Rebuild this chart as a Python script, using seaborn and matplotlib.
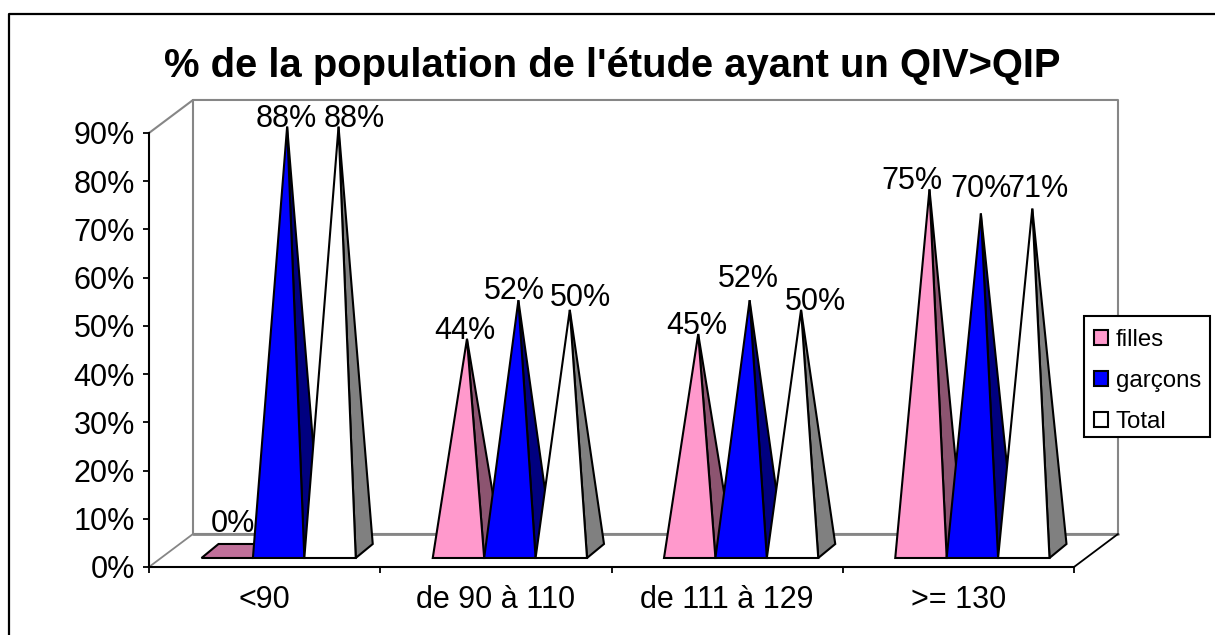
import matplotlib
matplotlib.use('Agg')
import matplotlib.pyplot as plt
import pandas as pd
import seaborn as sns
from matplotlib.lines import Line2D
from matplotlib.patches import Patch, Polygon, Rectangle

# data
groupes = ['<90', 'de 90 à 110', 'de 111 à 129', '>= 130']
filles = [0, 44, 45, 75]
garcons = [88, 52, 52, 70]
total = [88, 50, 50, 71]
series = ['filles', 'garçons', 'Total']

df = pd.DataFrame({
    'groupe': groupes * 3,
    'serie': ['filles'] * 4 + ['garçons'] * 4 + ['Total'] * 4,
    'pct': filles + garcons + total,
})

colors = {'filles': '#FF99CC', 'garçons': '#0000FF', 'Total': '#FFFFFF'}
side_colors = {'filles': '#8C5470', 'garçons': '#000080', 'Total': '#808080'}
floor_color = '#C0709A'

W, H = 1215, 635
px_x = 1 / 231.25   # one pixel in category units
px_y = 1 / 4.82     # one pixel in percent units

sns.set_theme(style='white')
plt.rcParams['font.family'] = ['Liberation Sans', 'DejaVu Sans']

fig = plt.figure(figsize=(W / 100, H / 100), dpi=100)
ax = fig.add_axes([149 / W, (H - 567) / H, 925 / W, 434 / H])

# seaborn works out the bar slots, the pyramids are drawn on top of them
sns.barplot(data=df, x='groupe', y='pct', hue='serie', hue_order=series,
            palette=colors, width=0.667, gap=0, legend=False, ax=ax)
ax.set_xlim(-0.5, 3.5)
ax.set_ylim(0, 90)
ax.set_xlabel('')
ax.set_ylabel('')

# back wall and floor of the 3d box
wx, wy = 44 * px_x, 33 * px_y
gray = '#868686'
ax.plot([-0.5, -0.5 + wx, 3.5 + wx, 3.5 + wx, -0.5 + wx, -0.5 + wx],
        [90, 90 + wy, 90 + wy, wy, wy, 90 + wy], color=gray, lw=1.5,
        clip_on=False, zorder=1)
ax.plot([-0.5, -0.5 + wx], [0, wy], color=gray, lw=1.3, clip_on=False, zorder=1)
ax.plot([-0.5 + wx, 3.5 + wx], [wy, wy], color=gray, lw=2, clip_on=False, zorder=1)
ax.plot([3.5, 3.5 + wx], [0, wy], color='black', lw=1.3, clip_on=False, zorder=1)

# label nudges in pixels (dx, dy above the apex)
nudges = [(-3, 19), (-1, 0), (16, 0),
          (-2.5, 0), (-4.5, 1), (10.5, 4),
          (-1.5, 0), (-1, 13), (14.5, 0),
          (-17.5, 0), (0, 16), (5.5, 12)]

shift = 14 * px_x
base = 9 * px_y
dx, dy = 17 * px_x, 14 * px_y
bars = list(ax.patches)
z = 3
for i in range(4):
    for j, s in enumerate(series):
        bar = bars[j * 4 + i]
        x0 = bar.get_x() + shift
        x1 = x0 + bar.get_width()
        v = bar.get_height()
        bar.set_visible(False)
        apex = ((x0 + x1) / 2 + dx / 2, base + dy / 2 + v)
        if v == 0:
            ax.add_patch(Polygon([(x0, base), (x1, base), (x1 + dx, base + dy), (x0 + dx, base + dy)],
                                 fc=floor_color, ec='black', lw=1.5, clip_on=False, zorder=z))
        else:
            ax.add_patch(Polygon([(x1, base), (x1 + dx, base + dy), apex],
                                 fc=side_colors[s], ec='black', lw=1.5, clip_on=False, zorder=z))
            ax.add_patch(Polygon([(x0, base), (x1, base), apex],
                                 fc=colors[s], ec='black', lw=1.5, clip_on=False, zorder=z))
        z += 1

# data labels go above every pyramid
for i in range(4):
    for j, s in enumerate(series):
        bar = bars[j * 4 + i]
        v = bar.get_height()
        xc = bar.get_x() + shift + bar.get_width() / 2 + dx / 2
        nx, ny = nudges[i * 3 + j]
        ax.text(xc + nx * px_x, base + dy / 2 + v + ny * px_y, '%d%%' % v,
                ha='center', va='baseline', fontsize=22, color='black',
                clip_on=False, zorder=40)

# axes
sns.despine(ax=ax)
for side in ['left', 'bottom']:
    ax.spines[side].set_color('black')
    ax.spines[side].set_linewidth(1.5)
ax.set_yticks(range(0, 100, 10))
ax.set_yticklabels(['%d%%' % t for t in range(0, 100, 10)])
ax.set_xticks([-0.5, 0.5, 1.5, 2.5, 3.5], minor=True)
ax.tick_params(axis='y', which='major', left=True, length=4, width=1.3, color='black',
               labelsize=22, labelcolor='black', pad=6)
ax.tick_params(axis='x', which='major', bottom=False, labelsize=22, labelcolor='black', pad=7)
ax.tick_params(axis='x', which='minor', bottom=True, length=4, width=1.3, color='black')

fig.text(612 / W, (H - 77) / H, "% de la population de l'étude ayant un QIV>QIP",
         ha='center', va='baseline', fontsize=28.8, fontweight='bold', color='black')

# legend box is drawn apart so its size can match the picture
fig.add_artist(Rectangle((1084 / W, (H - 437) / H), 126 / W, 121 / H, fc='white', ec='black',
                         lw=1.5, transform=fig.transFigure, zorder=50))
handles = [Patch(fc=colors[s], ec='black', lw=1.5, label=s) for s in series]
leg = fig.legend(handles=handles, loc='upper left',
                 bbox_to_anchor=(1094 / W, (H - 329) / H), fontsize=17.3,
                 frameon=False, handlelength=0.58, handleheight=0.58, handletextpad=0.33,
                 labelspacing=0.8, borderpad=0, borderaxespad=0)
leg.set_zorder(51)
for t in leg.get_texts():
    t.set_color('black')

# chart frame, only its left and top edges are inside the picture
fig.add_artist(Line2D([9 / W, 9 / W, 1], [0, (H - 14) / H, (H - 14) / H], color='black', lw=1.6))

fig.savefig('out.png', dpi=100)
